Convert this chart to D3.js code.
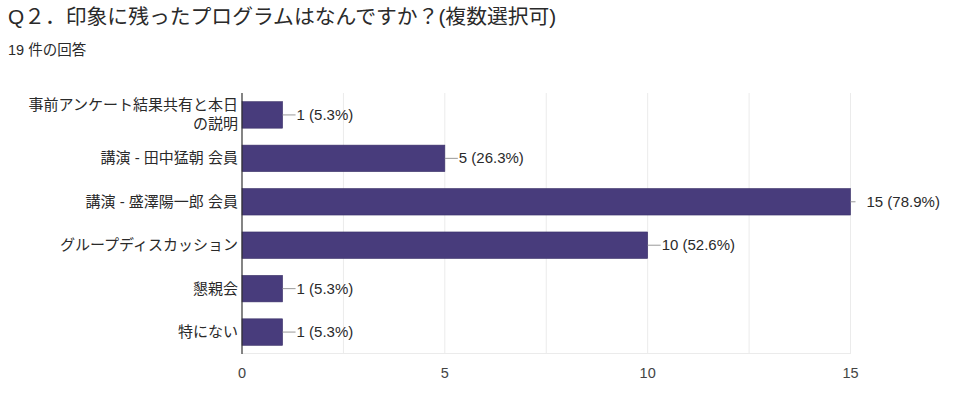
<!DOCTYPE html>
<html lang="ja">
<head>
<meta charset="utf-8">
<title>Q2 chart</title>
<script src="https://cdn.jsdelivr.net/npm/d3@7"></script>
<style>
  body { margin: 0; background: #fff; }
  text { font-family: "Liberation Sans", Arial, "Noto Sans CJK JP", sans-serif; }
</style>
</head>
<body>
<div id="chart"></div>
<script>
// data
var categories = [
  ["事前アンケート結果共有と本日", "の説明"],
  ["講演 - 田中猛朝 会員"],
  ["講演 - 盛澤陽一郎 会員"],
  ["グループディスカッション"],
  ["懇親会"],
  ["特にない"]
];
var counts = [1, 5, 15, 10, 1, 1];
var percents = ["5.3%", "26.3%", "78.9%", "52.6%", "5.3%", "5.3%"];
var tickValues = [0, 5, 10, 15];
var gridValues = [2.5, 5, 7.5, 10, 12.5, 15];

var W = 953, H = 397;
var plotLeft = 242, plotRight = 850.5, plotTop = 93, plotBottom = 354;
var barColor = "#483c7c";

var svg = d3.select("#chart").append("svg")
    .attr("width", W)
    .attr("height", H);

// title
svg.append("text")
    .attr("x", 8).attr("y", 24)
    .attr("font-size", "20.8px")
    .attr("fill", "#2a2a2a")
    .text("Q２．印象に残ったプログラムはなんですか？(複数選択可)");
svg.append("text")
    .attr("x", 8).attr("y", 55)
    .attr("font-size", "14.5px")
    .attr("fill", "#2a2a2a")
    .text("19 件の回答");

var x = d3.scaleLinear().domain([0, 15]).range([plotLeft, plotRight]);
var y = d3.scaleBand().domain(d3.range(counts.length)).range([plotTop, plotBottom]).paddingInner(0.39).paddingOuter(0.2);

// grid
svg.selectAll("line.grid").data(gridValues).enter().append("line")
    .attr("class", "grid")
    .attr("x1", d => x(d)).attr("x2", d => x(d))
    .attr("y1", plotTop).attr("y2", plotBottom)
    .attr("stroke", "#ebebeb").attr("stroke-width", 1);
svg.append("line")
    .attr("x1", plotLeft).attr("x2", plotRight)
    .attr("y1", plotBottom - 0.5).attr("y2", plotBottom - 0.5)
    .attr("stroke", "#ebebeb");

// bars
svg.selectAll("rect.bar").data(counts).enter().append("rect")
    .attr("class", "bar")
    .attr("x", x(0))
    .attr("y", (d, i) => y(i))
    .attr("width", d => x(d) - x(0))
    .attr("height", y.bandwidth())
    .attr("fill", barColor)
    .attr("stroke", "#3a3068").attr("stroke-width", 0.6);

// value labels with leader lines
counts.forEach(function(d, i) {
  var cy = y(i) + y.bandwidth() / 2;
  var xe = x(d);
  var len = d === 15 ? 5 : 13;
  svg.append("line")
      .attr("x1", xe).attr("x2", xe + len)
      .attr("y1", cy).attr("y2", cy)
      .attr("stroke", "#999").attr("stroke-width", 1);
  svg.append("text")
      .attr("x", d === 15 ? xe + 16 : xe + len + 1)
      .attr("y", cy + 5)
      .attr("font-size", "15px")
      .attr("fill", "#2a2a2a")
      .text(d + " (" + percents[i] + ")");
});

// axis line
svg.append("line")
    .attr("x1", plotLeft).attr("x2", plotLeft)
    .attr("y1", plotTop).attr("y2", plotBottom)
    .attr("stroke", "#333").attr("stroke-width", 1.2);

// category labels
categories.forEach(function(lines, i) {
  var cy = y(i) + y.bandwidth() / 2;
  var t = svg.append("text")
      .attr("text-anchor", "end")
      .attr("font-size", "15px")
      .attr("fill", "#2a2a2a");
  var n = lines.length;
  lines.forEach(function(s, k) {
    t.append("tspan")
        .attr("x", plotLeft - 4)
        .attr("y", cy + 5 + (k - (n - 1) / 2) * 19)
        .text(s);
  });
});

// tick labels
svg.selectAll("text.tick").data(tickValues).enter().append("text")
    .attr("class", "tick")
    .attr("x", d => x(d))
    .attr("y", 378)
    .attr("text-anchor", "middle")
    .attr("font-size", "14.5px")
    .attr("fill", "#444")
    .text(d => d);
</script>
</body>
</html>
